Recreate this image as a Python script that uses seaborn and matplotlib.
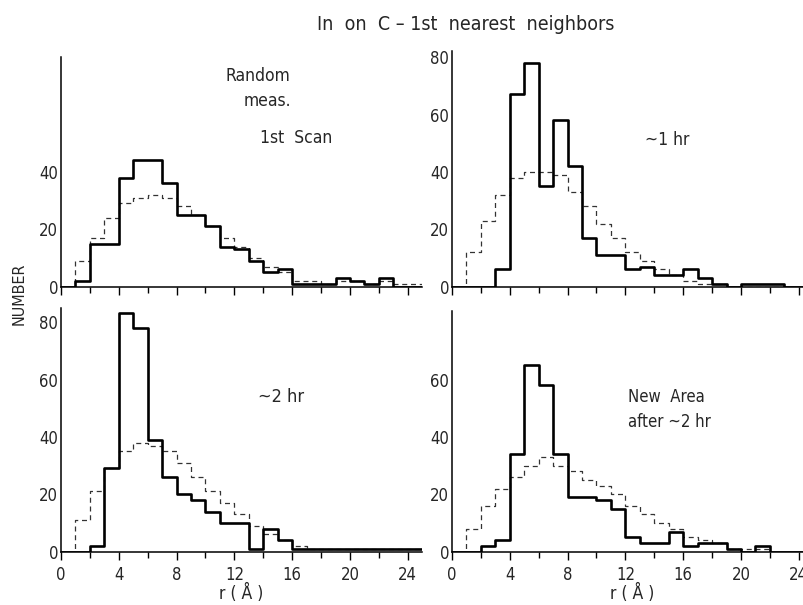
import numpy as np
import pandas as pd
import seaborn as sns
import matplotlib.pyplot as plt
from matplotlib.ticker import MultipleLocator

# 1 A bins from 0 to 25 A, counts read per bin (bin i covers i..i+1)
edges = list(range(0, 26))
centers = np.arange(25) + 0.5

# solid = measured, dashed = random reference
scan1_meas = [0, 2, 15, 15, 38, 44, 44, 36, 25, 25, 21, 14, 13, 9, 5, 6, 1, 1, 1, 3, 2, 1, 3, 0, 0]
scan1_rand = [0, 9, 17, 24, 29, 31, 32, 31, 28, 25, 21, 17, 14, 10, 7, 5, 2, 2, 1, 2, 2, 1, 2, 1, 1]

hr1_meas = [0, 0, 0, 6, 67, 78, 35, 58, 42, 17, 11, 11, 6, 7, 4, 4, 6, 3, 1, 0, 1, 1, 1, 0, 0]
hr1_rand = [0, 12, 23, 32, 38, 40, 40, 39, 33, 28, 22, 17, 12, 9, 6, 4, 2, 1, 1, 0, 0, 0, 0, 0, 0]

hr2_meas = [0, 0, 2, 29, 83, 78, 39, 26, 20, 18, 14, 10, 10, 1, 8, 4, 1, 1, 1, 1, 1, 1, 1, 1, 1]
hr2_rand = [0, 11, 21, 29, 35, 38, 37, 35, 31, 26, 21, 17, 13, 9, 6, 4, 2, 1, 1, 1, 1, 1, 1, 1, 1]

new_meas = [0, 0, 2, 4, 34, 65, 58, 34, 19, 19, 18, 15, 5, 3, 3, 7, 2, 3, 3, 1, 0, 2, 0, 0, 0]
new_rand = [0, 8, 16, 22, 26, 30, 33, 30, 28, 25, 23, 20, 16, 13, 10, 8, 5, 4, 3, 1, 1, 1, 0, 0, 0]

title = "In  on  C \u2013 1st  nearest  neighbors"

sns.set_theme(style="white")
plt.rcParams['font.family'] = ['Liberation Sans Narrow', 'DejaVu Sans']
plt.rcParams['font.stretch'] = 'condensed'

W, H = 804, 605
fig = plt.figure(figsize=(W / 100, H / 100), dpi=100)

px_x = 14.45   # pixels per A
px_y = 2.87    # pixels per count


def make_axes(x0, base, ytop):
    left = x0 / W
    bottom = 1 - base / H
    return fig.add_axes([left, bottom, 25 * px_x / W, ytop * px_y / H])


panels = [
    # x of r=0, y of baseline, ylim top, major yticks, minor yticks, data, labelled x
    (61, 286.7, 80, [0, 20, 40], [10, 30, 50], scan1_meas, scan1_rand, False),
    (452, 286.7, 82, [0, 20, 40, 60, 80], [10, 30, 50, 70], hr1_meas, hr1_rand, False),
    (61, 551.7, 85, [0, 20, 40, 60, 80], [10, 30, 50, 70], hr2_meas, hr2_rand, True),
    (452, 551.7, 84, [0, 20, 40, 60], [10, 30, 50, 70], new_meas, new_rand, True),
]

axes = []
for x0, base, ytop, majors, minors, meas, rand, xlab in panels:
    ax = make_axes(x0, base, ytop)
    df = pd.DataFrame({"r": centers, "meas": meas, "rand": rand})
    sns.histplot(data=df, x="r", weights="rand", bins=edges, element="step",
                 fill=False, color="#333333", linewidth=0.9,
                 linestyle=(0, (4, 3)), ax=ax)
    sns.histplot(data=df, x="r", weights="meas", bins=edges, element="step",
                 fill=False, color="black", linewidth=1.9, ax=ax)
    ax.set_xlim(0, 25)
    ax.set_ylim(0, ytop)
    ax.set_xlabel("")
    ax.set_ylabel("")
    for s in ["top", "right"]:
        ax.spines[s].set_visible(False)
    for s in ["left", "bottom"]:
        ax.spines[s].set_color("black")
        ax.spines[s].set_linewidth(1.1)
    ax.set_yticks(majors)
    ax.set_yticks(minors, minor=True)
    ax.xaxis.set_major_locator(MultipleLocator(4))
    ax.xaxis.set_minor_locator(MultipleLocator(2))
    ax.set_xticks([t for t in range(0, 25, 4)])
    ax.tick_params(axis="y", which="major", direction="in", length=7, width=1,
                   pad=2, labelsize=12, color="black")
    ax.tick_params(axis="y", which="minor", direction="in", length=4, width=1,
                   color="black")
    ax.tick_params(axis="x", which="major", direction="out", length=6, width=1,
                   pad=4, labelsize=12, color="black", bottom=True)
    ax.tick_params(axis="x", which="minor", direction="out", length=4, width=1,
                   color="black", bottom=True)
    if not xlab:
        ax.set_xticklabels([])
    else:
        ax.set_xlabel("r ( \u00c5 )", fontsize=12.5, labelpad=0)
    axes.append(ax)

fig.text(466 / W, 1 - 25 / H, title, ha="center", va="center", fontsize=14)
fig.text(19 / W, 1 - 294 / H, "NUMBER", rotation=90, ha="center", va="center",
         fontsize=11.5)

fig.text(258 / W, 1 - 76 / H, "Random", ha="center", va="center", fontsize=12.5)
fig.text(267 / W, 1 - 101 / H, "meas.", ha="center", va="center", fontsize=12.5)
fig.text(296 / W, 1 - 138 / H, "1st  Scan", ha="center", va="center", fontsize=12.5)
fig.text(667 / W, 1 - 140 / H, "~1 hr", ha="center", va="center", fontsize=12.5)
fig.text(281 / W, 1 - 397 / H, "~2 hr", ha="center", va="center", fontsize=13)
fig.text(628 / W, 1 - 397 / H, "New  Area", ha="left", va="center", fontsize=12)
fig.text(628 / W, 1 - 422 / H, "after ~2 hr", ha="left", va="center", fontsize=12)

fig.savefig("out.png", dpi=100, facecolor="white")
